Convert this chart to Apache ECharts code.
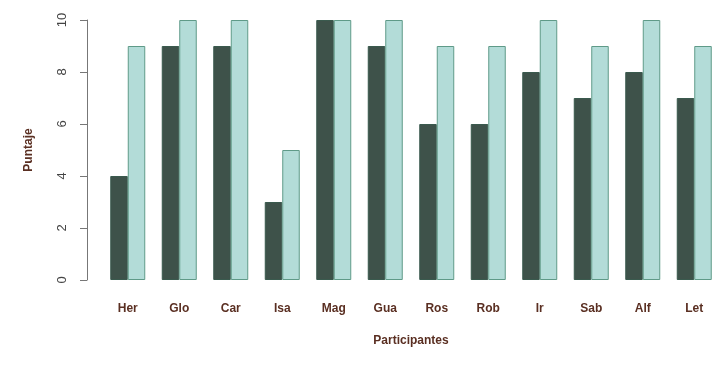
<!DOCTYPE html>
<html>
<head>
<meta charset="utf-8">
<script src="https://cdn.jsdelivr.net/npm/echarts@6/dist/echarts.min.js"></script>
<style>html,body{margin:0;padding:0;background:#fff;}#c{width:723px;height:366px;}</style>
</head>
<body>
<div id="c"></div>
<script>
var categories = ["Her","Glo","Car","Isa","Mag","Gua","Ros","Rob","Ir","Sab","Alf","Let"];
var serieA = [4,9,9,3,10,9,6,6,8,7,8,7];
var serieB = [9,10,10,5,10,10,9,9,10,9,10,9];
var yTicks = [0,2,4,6,8,10];

var chart = echarts.init(document.getElementById('c'));
var labelColor = '#5a2f22';
chart.setOption({
  animation: false,
  backgroundColor: '#ffffff',
  grid: {left: 102, right: 3, top: 20, bottom: 86},
  xAxis: {
    type: 'category',
    data: categories,
    axisLine: {show: false},
    axisTick: {show: false},
    axisLabel: {color: labelColor, fontFamily: 'Liberation Sans', fontSize: 12, fontWeight: 'bold', margin: 23},
    name: 'Participantes',
    nameLocation: 'middle',
    nameGap: 55,
    nameTextStyle: {color: labelColor, fontFamily: 'Liberation Sans', fontSize: 12, fontWeight: 'bold'}
  },
  yAxis: {
    type: 'value',
    min: 0, max: 10, interval: 2,
    offset: 15,
    splitLine: {show: false},
    axisLine: {show: true, lineStyle: {color: '#777', width: 1}},
    axisTick: {show: true, length: 7, lineStyle: {color: '#777'}},
    axisLabel: {color: '#444', fontFamily: 'Liberation Sans', fontSize: 13, rotate: 90, margin: 18,
      formatter: function(v){ return yTicks.indexOf(v) >= 0 ? String(v) : ''; }},
    name: 'Puntaje',
    nameLocation: 'middle',
    nameGap: 52,
    nameRotate: 90,
    nameTextStyle: {color: labelColor, fontFamily: 'Liberation Sans', fontSize: 12, fontWeight: 'bold'}
  },
  series: [
    {type: 'bar', data: serieA, barWidth: 17.5, barGap: '0%',
     itemStyle: {color: '#3e524a', borderColor: '#3a5a4e', borderWidth: 1}},
    {type: 'bar', data: serieB, barWidth: 17.5,
     itemStyle: {color: '#b3dcd8', borderColor: '#5f9a88', borderWidth: 1}}
  ]
});
</script>
</body>
</html>
